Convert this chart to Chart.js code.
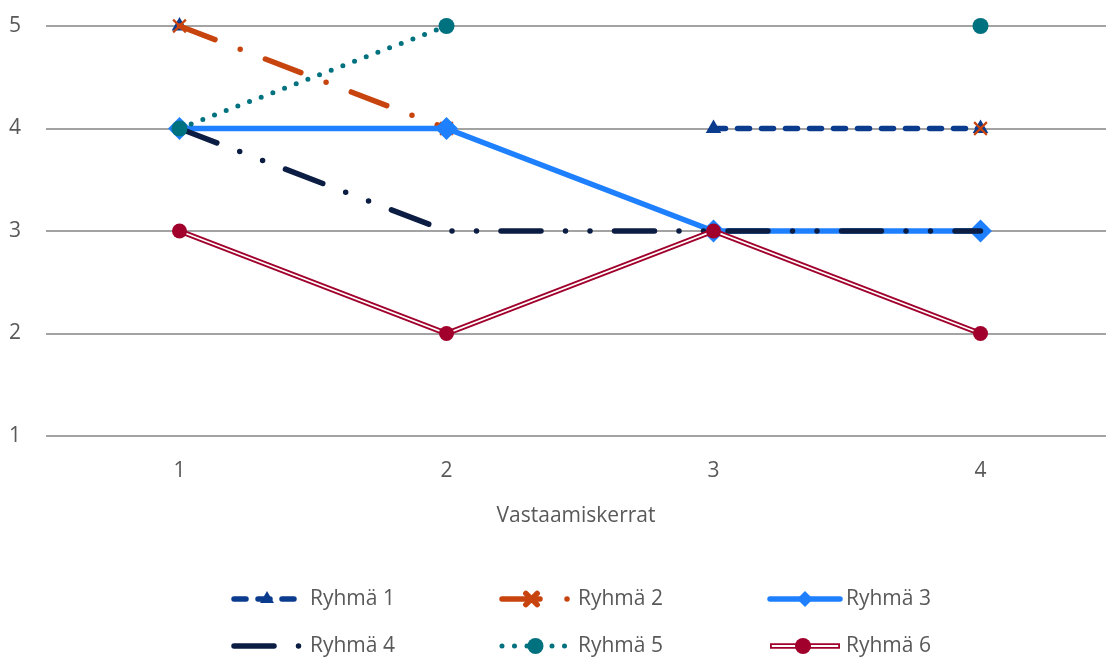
<!DOCTYPE html>
<html>
<head>
<meta charset="utf-8">
<script src="https://cdn.jsdelivr.net/npm/chart.js@4.4.1/dist/chart.umd.min.js"></script>
<style>
html,body{margin:0;padding:0;background:#fff;overflow:hidden}
#wrap{width:1106px;height:660px;position:relative}
</style>
</head>
<body>
<div id="wrap"><canvas id="c" width="1106" height="660"></canvas></div>
<script>
// ---- data ----
const categories = [1, 2, 3, 4];
const xTickLabels = ['1', '2', '3', '4'];
const yTicks = [1, 2, 3, 4, 5];
const seriesNames = ['Ryhmä 1', 'Ryhmä 2', 'Ryhmä 3', 'Ryhmä 4', 'Ryhmä 5', 'Ryhmä 6'];
const ryhma1 = [5, null, 4, 4];
const ryhma2 = [5, 4, null, 4];
const ryhma3 = [4, 4, 3, 3];
const ryhma4 = [4, 3, 3, 3];
const ryhma5 = [4, 5, null, 5];
const ryhma6 = [3, 2, 3, 2];
const axisTitle = 'Vastaamiskerrat';

// ---- styles ----
const FONT = '"Open Sans", "Noto Sans", sans-serif';
const TEXT = '#595959';
const styles = [
  {color: '#0b3b8c', width: 5.5, dash: [12, 12], pointStyle: 'triangle', radius: 9, pbw: 0, legendRadius: 8, legendX: 0},
  {color: '#c8440f', width: 5.5, dash: [38, 27, 0, 27], pointStyle: 'crossRot', radius: 9, pbw: 2.2, legendRadius: 8, legendX: -4},
  {color: '#1f80ff', width: 5.5, dash: [], pointStyle: 'rectRot', radius: 11.5, pbw: 0, legendRadius: 8, legendX: 0},
  {color: '#0b1d42', width: 5.5, dash: [40, 24.5, 0, 24.5, 0, 24.5], pointStyle: null, radius: 0, pbw: 0},
  {color: '#00717e', width: 5, dash: [0, 12.5], pointStyle: 'circle', radius: 8, pbw: 0, legendRadius: 8, legendX: 0},
  {color: '#a0002b', width: 5.5, dash: [], pointStyle: 'circle', radius: 7.5, pbw: 0, legendRadius: 8, legendX: -2, double: true, inner: 1.8}
];
const seriesData = [ryhma1, ryhma2, ryhma3, ryhma4, ryhma5, ryhma6];

function pts(arr) { return categories.map((c, i) => ({x: c, y: arr[i]})); }

const datasets = [];
seriesData.forEach((arr, i) => {
  const st = styles[i];
  const order = 20 - i * 2;
  if (st.double) {
    datasets.push({label: seriesNames[i], data: pts(arr), borderColor: st.color, borderWidth: st.width,
      pointRadius: 0, pointHoverRadius: 0, spanGaps: false, order: order, borderCapStyle: 'butt'});
    datasets.push({label: '_inner', data: pts(arr), borderColor: '#ffffff', borderWidth: st.inner,
      pointRadius: 0, pointHoverRadius: 0, spanGaps: false, order: order - 1});
    datasets.push({label: '_points', data: pts(arr), showLine: false, pointStyle: st.pointStyle,
      pointRadius: st.radius, pointBackgroundColor: st.color, pointBorderColor: st.color,
      pointBorderWidth: st.pbw, order: order - 1.5});
  } else {
    datasets.push({label: seriesNames[i], data: pts(arr), borderColor: st.color, borderWidth: st.width,
      borderDash: st.dash, borderCapStyle: 'round', spanGaps: false,
      pointStyle: st.pointStyle || 'circle', pointRadius: st.radius, pointHoverRadius: st.radius,
      pointBackgroundColor: st.color, pointBorderColor: st.color, pointBorderWidth: st.pbw, order: order});
  }
});

// ---- custom legend ----
const legendCols = [{start: 234, end: 300, text: 310}, {start: 502, end: 569, text: 578}, {start: 770, end: 840, text: 846}];
const legendRows = [599, 646];
const legendPlugin = {
  id: 'customLegend',
  afterDraw(chart) {
    const ctx = chart.ctx;
    seriesNames.forEach((name, i) => {
      const st = styles[i];
      const c = legendCols[i % 3];
      const y = legendRows[Math.floor(i / 3)];
      const xm = (c.start + c.end) / 2 + (st.legendX || 0);
      ctx.save();
      ctx.strokeStyle = st.color;
      ctx.lineWidth = st.width;
      if (st.double) {
        ctx.lineCap = 'butt';
        ctx.beginPath(); ctx.moveTo(c.start, y); ctx.lineTo(c.end, y); ctx.stroke();
        ctx.strokeStyle = '#fff'; ctx.lineWidth = st.inner;
        ctx.beginPath(); ctx.moveTo(c.start + 1.8, y); ctx.lineTo(c.end - 1.8, y); ctx.stroke();
      } else {
        ctx.lineCap = 'round';
        ctx.setLineDash(st.dash);
        ctx.beginPath(); ctx.moveTo(c.start, y); ctx.lineTo(c.end, y); ctx.stroke();
      }
      ctx.setLineDash([]);
      if (st.pointStyle) {
        ctx.fillStyle = st.color; ctx.strokeStyle = st.color;
        Chart.helpers.drawPoint(ctx, {pointStyle: st.pointStyle, radius: st.legendRadius, borderWidth: st.pbw, rotation: 0}, xm, y);
      }
      ctx.fillStyle = TEXT;
      ctx.font = '21px ' + FONT;
      ctx.textBaseline = 'middle';
      ctx.textAlign = 'left';
      ctx.fillText(name, c.text, y);
      ctx.restore();
    });
  }
};

new Chart(document.getElementById('c'), {
  type: 'line',
  data: {datasets: datasets},
  plugins: [legendPlugin],
  options: {
    responsive: false,
    animation: false,
    clip: false,
    layout: {autoPadding: false, padding: {top: 26, left: 0, right: 0, bottom: 114}},
    plugins: {legend: {display: false}, tooltip: {enabled: false}},
    elements: {line: {tension: 0}},
    scales: {
      x: {
        type: 'linear', min: 0.5, max: 4.47,
        grid: {display: false, drawTicks: false},
        border: {display: false},
        afterBuildTicks: (s) => { s.ticks = categories.map(v => ({value: v})); },
        ticks: {padding: 22, color: TEXT, font: {family: FONT, size: 21},
          callback: (v) => { const k = categories.indexOf(v); return k >= 0 ? xTickLabels[k] : ''; }},
        afterFit: (s) => { s.height = 110; s.paddingLeft = 0; s.paddingRight = 0; },
        title: {display: true, text: axisTitle, color: TEXT, font: {family: FONT, size: 21}, padding: {top: 0, bottom: 17}}
      },
      y: {
        min: 1, max: 5,
        afterBuildTicks: (s) => { s.ticks = yTicks.map(v => ({value: v})); },
        grid: {color: '#a3a3a3', lineWidth: 2, drawTicks: false},
        border: {display: false},
        ticks: {padding: 25, color: TEXT, font: {family: FONT, size: 21}},
        afterFit: (s) => { s.width = 46; s.paddingTop = 0; s.paddingBottom = 0; }
      }
    }
  }
});
</script>
</body>
</html>
